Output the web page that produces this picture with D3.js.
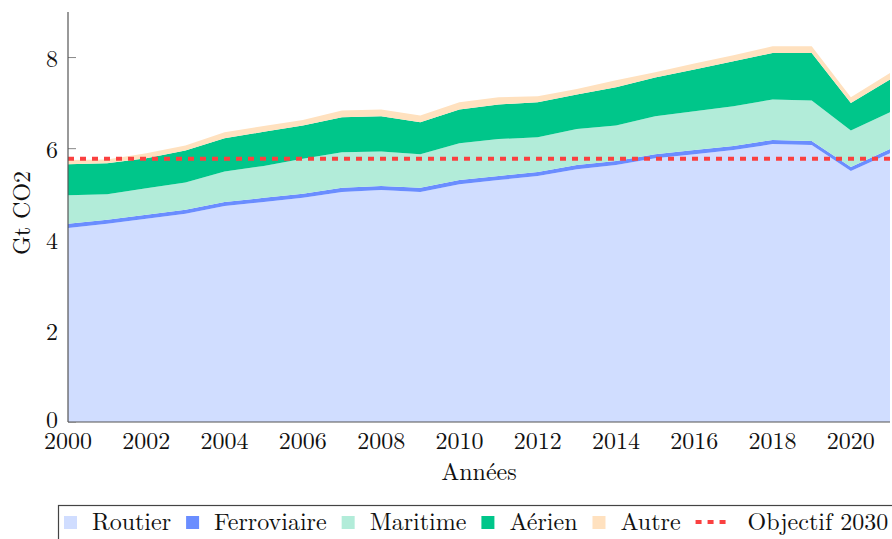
<!DOCTYPE html>
<html>
<head>
<meta charset="utf-8">
<script src="https://cdn.jsdelivr.net/npm/d3@7"></script>
<style>
  body { margin: 0; background: #fff; }
</style>
</head>
<body>
<div id="chart"></div>
<script>
// data (Gt CO2)
var years = [2000, 2001, 2002, 2003, 2004, 2005, 2006, 2007, 2008, 2009, 2010,
             2011, 2012, 2013, 2014, 2015, 2016, 2017, 2018, 2019, 2020, 2021];
var routier     = [4.26, 4.35, 4.46, 4.57, 4.74, 4.83, 4.92, 5.05, 5.09, 5.05, 5.22,
                   5.31, 5.40, 5.55, 5.64, 5.79, 5.88, 5.97, 6.10, 6.08, 5.51, 5.90];
var ferroviaire = [0.09, 0.09, 0.09, 0.09, 0.09, 0.09, 0.09, 0.09, 0.09, 0.09, 0.09,
                   0.09, 0.09, 0.09, 0.09, 0.09, 0.09, 0.09, 0.09, 0.09, 0.09, 0.09];
var maritime    = [0.63, 0.56, 0.58, 0.60, 0.67, 0.70, 0.77, 0.78, 0.76, 0.74, 0.81,
                   0.81, 0.76, 0.79, 0.78, 0.83, 0.85, 0.87, 0.89, 0.89, 0.80, 0.81];
var aerien      = [0.68, 0.68, 0.66, 0.70, 0.73, 0.75, 0.73, 0.77, 0.77, 0.70, 0.74,
                   0.76, 0.77, 0.76, 0.84, 0.85, 0.92, 0.99, 1.02, 1.04, 0.60, 0.72];
var autre       = [0.09, 0.08, 0.11, 0.11, 0.13, 0.13, 0.12, 0.15, 0.15, 0.15, 0.16,
                   0.16, 0.13, 0.12, 0.15, 0.12, 0.13, 0.13, 0.15, 0.15, 0.13, 0.14];
var objectif = 5.78;
var xTicks = [2000, 2002, 2004, 2006, 2008, 2010, 2012, 2014, 2016, 2018, 2020];
var yTicks = [0, 2, 4, 6, 8];

var keys = ["Routier", "Ferroviaire", "Maritime", "Aérien", "Autre"];
var colors = ["#d0ddff", "#6a8dff", "#b2ecd9", "#00c68a", "#ffe1bf"];

// table for the stack
var table = years.map(function(y, i) {
  return { year: y, "Routier": routier[i], "Ferroviaire": ferroviaire[i],
           "Maritime": maritime[i], "Aérien": aerien[i], "Autre": autre[i] };
});

var W = 892, H = 539;
var margin = {top: 12, right: 2, bottom: 117, left: 68};
var serif = "'Latin Modern Roman', 'Liberation Serif', serif";

var svg = d3.select("#chart").append("svg")
    .attr("width", W).attr("height", H)
    .style("font-family", serif);

var x = d3.scaleLinear().domain([2000, 2021]).range([margin.left, W - margin.right]);
var y = d3.scaleLinear().domain([0, 9]).range([H - margin.bottom, margin.top]);

// ticks (under the areas)
svg.append("g").selectAll("line").data(yTicks).enter().append("line")
    .attr("x1", margin.left).attr("x2", margin.left + 8)
    .attr("y1", function(d) { return y(d); }).attr("y2", function(d) { return y(d); })
    .attr("stroke", "#888").attr("stroke-width", 1);

var series = d3.stack().keys(keys)(table);

var area = d3.area()
    .x(function(d) { return x(d.data.year); })
    .y0(function(d) { return y(d[0]); })
    .y1(function(d) { return y(d[1]); });

svg.append("g").selectAll("path").data(series).enter().append("path")
    .attr("fill", function(d, i) { return colors[i]; })
    .attr("d", area);

// objective line
svg.append("line")
    .attr("x1", x(2000)).attr("x2", x(2021))
    .attr("y1", y(objectif)).attr("y2", y(objectif))
    .attr("stroke", "#fa4040").attr("stroke-width", 4)
    .attr("stroke-dasharray", "6,6");

// axis spines
svg.append("line")
    .attr("x1", margin.left).attr("x2", margin.left)
    .attr("y1", margin.top).attr("y2", y(0))
    .attr("stroke", "#555").attr("stroke-width", 1.2);
svg.append("line")
    .attr("x1", margin.left).attr("x2", W - margin.right)
    .attr("y1", y(0)).attr("y2", y(0))
    .attr("stroke", "#555").attr("stroke-width", 1.2);

// tick labels
svg.append("g").selectAll("text").data(yTicks).enter().append("text")
    .attr("x", margin.left - 10)
    .attr("y", function(d) { return y(d) + (d === 0 ? 6 : 9); })
    .attr("text-anchor", "end")
    .attr("fill", "#111")
    .style("font-size", "24px")
    .text(function(d) { return d; });

svg.append("g").selectAll("text").data(xTicks).enter().append("text")
    .attr("x", function(d) { return x(d); })
    .attr("y", 449)
    .attr("text-anchor", "middle")
    .attr("fill", "#111")
    .style("font-size", "24px")
    .text(function(d) { return d; });

// axis titles
svg.append("text")
    .attr("x", (x(2000) + x(2021)) / 2).attr("y", 480)
    .attr("text-anchor", "middle")
    .attr("fill", "#111")
    .style("font-size", "24px")
    .text("Années");

svg.append("text")
    .attr("transform", "translate(30,213) rotate(-90)")
    .attr("text-anchor", "middle")
    .attr("fill", "#111")
    .style("font-size", "24px")
    .text("Gt CO2");

// legend
var legend = svg.append("g");
legend.append("rect")
    .attr("x", 58.5).attr("y", 505.5).attr("width", 840).attr("height", 60)
    .attr("fill", "#fff").attr("stroke", "#444").attr("stroke-width", 1.2);

var items = keys.concat(["Objectif 2030"]);
var cx = 64;
items.forEach(function(name, i) {
  if (i < keys.length) {
    legend.append("rect")
      .attr("x", cx).attr("y", 516).attr("width", 13).attr("height", 13)
      .attr("fill", colors[i]);
  } else {
    legend.append("line")
      .attr("x1", cx).attr("x2", cx + 32).attr("y1", 522).attr("y2", 522)
      .attr("stroke", "#fa4040").attr("stroke-width", 4)
      .attr("stroke-dasharray", "6,6");
  }
  var tx = cx + (i < keys.length ? 28 : 52);
  var t = legend.append("text")
    .attr("x", tx).attr("y", 530)
    .attr("fill", "#111")
    .style("font-size", "24px")
    .text(name);
  cx = tx + t.node().getComputedTextLength() + 15;
});
</script>
</body>
</html>
